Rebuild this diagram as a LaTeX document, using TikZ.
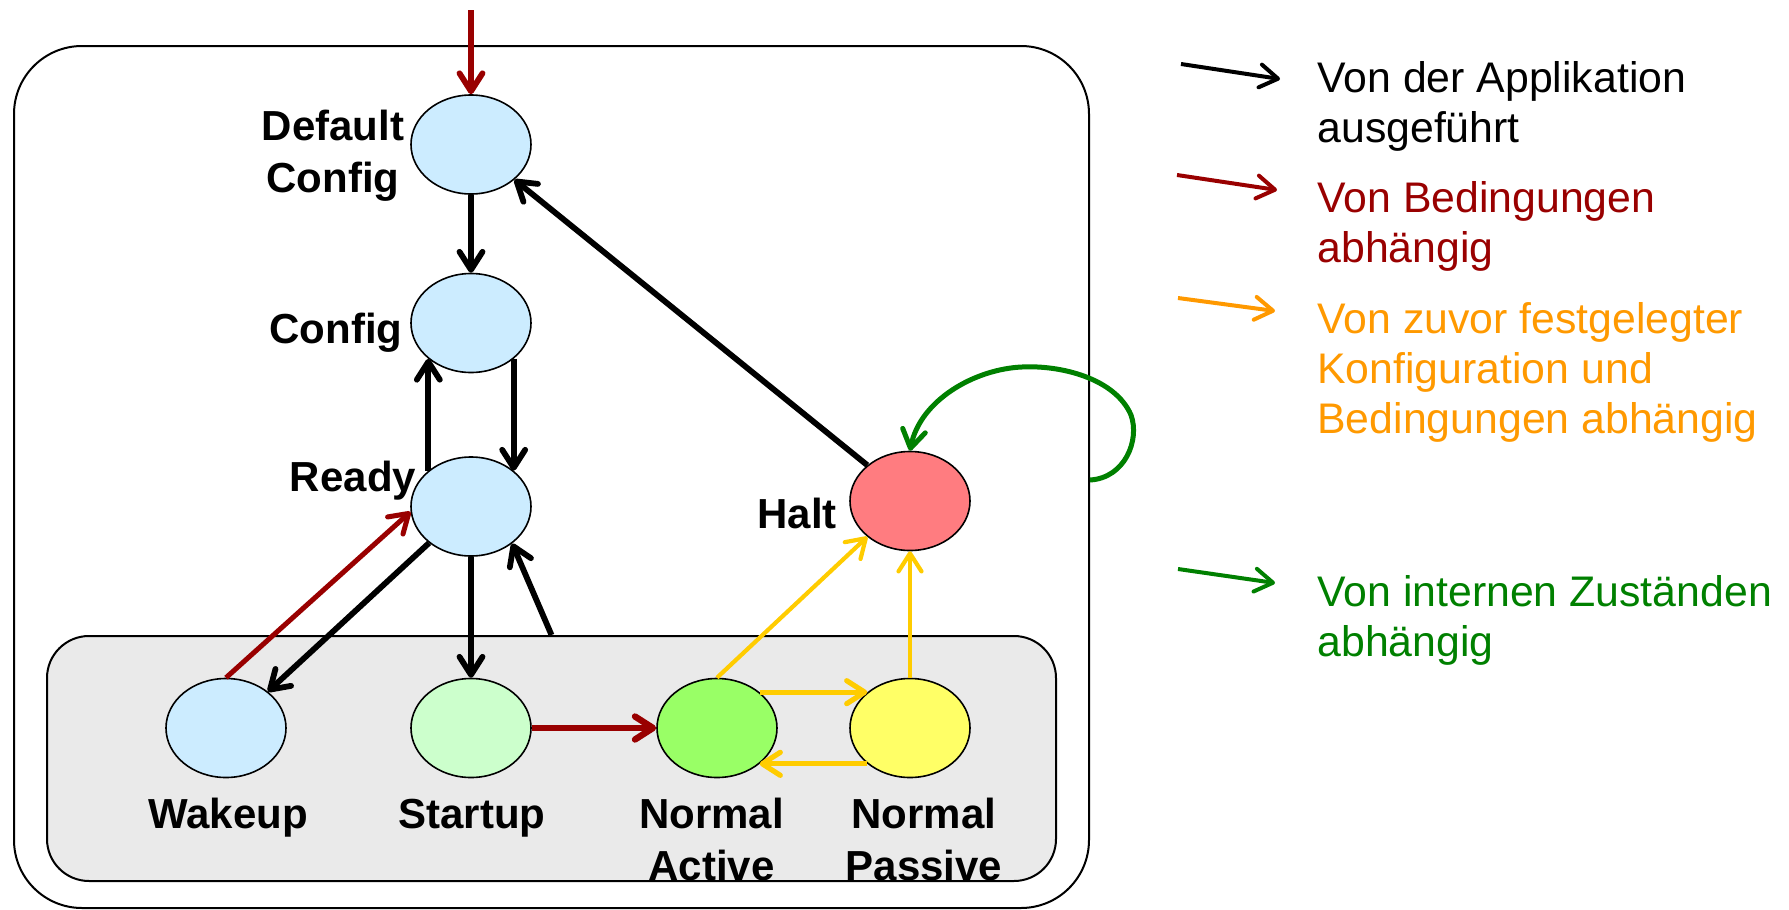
\documentclass[tikz,border=0pt]{standalone}
\usepackage{fontspec}
\setmainfont{Liberation Sans}
\usetikzlibrary{shapes.geometric,arrows.meta}

\definecolor{darkred}{HTML}{990000}
\definecolor{amber}{HTML}{FFCC00}
\definecolor{legorange}{HTML}{FF9900}
\definecolor{intgreen}{HTML}{008000}
\definecolor{paleblue}{HTML}{CCECFF}
\definecolor{palegreen}{HTML}{CCFFCC}
\definecolor{brightgreen}{HTML}{99FF66}
\definecolor{paleyellow}{HTML}{FFFF66}
\definecolor{salmon}{HTML}{FF7C80}
\definecolor{groupgray}{HTML}{EAEAEA}

\tikzset{
  state/.style={ellipse, draw=black, line width=0.8pt, minimum width=60pt,
    minimum height=49.5pt, inner sep=0pt},
  statelabel/.style={font=\fontsize{21}{26}\selectfont\bfseries, inner sep=0pt, align=center},
  legendtext/.style={font=\fontsize{21.4}{24.9}\selectfont, inner sep=0pt, align=left,
    anchor=north west},
  barb/.style={-{Straight Barb[length=9pt,width=11.5pt,round]}},
  trans/.style={barb, line width=2.9pt},
  legarrow/.style={barb, line width=2pt},
  box/.style={draw=black, line width=1pt, rectangle, inner sep=0pt}
}

\begin{document}
\begin{tikzpicture}[x=0.5pt, y=-0.5pt]
  \useasboundingbox (0,0) rectangle (1789,910);

  % composite states
  \node[box, rounded corners=34pt, minimum width=537.5pt, minimum height=431pt]
    (outer) at (551.5,477) {};
  \node[box, fill=groupgray, rounded corners=21pt, minimum width=504.5pt, minimum height=122.5pt]
    (group) at (551.5,758.5) {};

  % states
  \node[state, fill=paleblue]    (dc) at (471,144.5) {};
  \node[state, fill=paleblue]    (cf) at (471,323) {};
  \node[state, fill=paleblue]    (rd) at (471,506.5) {};
  \node[state, fill=salmon]      (ht) at (910,501) {};
  \node[state, fill=paleblue]    (wk) at (226,728) {};
  \node[state, fill=palegreen]   (su) at (471,728) {};
  \node[state, fill=brightgreen] (na) at (717,728) {};
  \node[state, fill=paleyellow]  (np) at (910,728) {};

  % state names
  \node[statelabel, anchor=north] (dcLab) at (333,110) {Default\\Config};
  \node[statelabel, anchor=base]  (cfLab) at (336,343) {Config};
  \node[statelabel, anchor=base]  (rdLab) at (353,491) {Ready};
  \node[statelabel, anchor=base]  (htLab) at (797,528) {Halt};
  \node[statelabel, anchor=base]  (wkLab) at (228,828) {Wakeup};
  \node[statelabel, anchor=base]  (suLab) at (472,828) {Startup};
  \node[statelabel, anchor=north] (naLab) at (711.5,798) {Normal\\Active};
  \node[statelabel, anchor=north] (npLab) at (924,798) {Normal\\Passive};

  % initial transition
  \coordinate (entry) at (471,10);
  \draw[trans, darkred] (entry) -- (dc.north);

  % transitions
  \draw[trans] (dc.south) -- (cf.north);
  \draw[trans] (ht.140) -- (dc.-39);
  \draw[trans] (rd.140) -- (cf.-140);
  \draw[trans] (cf.-40) -- (rd.40);
  \draw[trans, darkred, line width=2.5pt] (wk.north) -- (rd.-175);
  \draw[trans] (rd.-139) -- (wk.41);
  \draw[trans] (rd.south) -- (su.north);
  \draw[trans] (group.north) -- (rd.-42);
  \draw[trans, darkred, line width=3.2pt] (su.east) -- (na.west);
  \draw[trans, amber, line width=2.6pt] (na.40) -- (np.140);
  \draw[trans, amber, line width=2.6pt] (np.-140) -- (na.-40);
  \draw[trans, amber, line width=2.1pt] (na.north) -- (ht.-140);
  \draw[trans, amber, line width=2.1pt] (np.north) -- (ht.south);
  \draw[trans, intgreen, line width=2.5pt] ([yshift=-1.5pt]outer.east)
    .. controls (1125,478) and (1140,440) .. (1131,415)
    .. controls (1115,378) and (1060,365) .. (1022,367)
    .. controls (975,369) and (920,400) .. (ht.north);

  % legend
  \coordinate (lgKs) at (1181,64);   \coordinate (lgKe) at (1280,79);
  \coordinate (lgRs) at (1177,175);  \coordinate (lgRe) at (1277,190);
  \coordinate (lgOs) at (1178,298);  \coordinate (lgOe) at (1275,311);
  \coordinate (lgGs) at (1178,569);  \coordinate (lgGe) at (1275,583);
  \draw[legarrow, black]     (lgKs) -- (lgKe);
  \draw[legarrow, darkred]   (lgRs) -- (lgRe);
  \draw[legarrow, legorange] (lgOs) -- (lgOe);
  \draw[legarrow, intgreen]  (lgGs) -- (lgGe);

  \node[legendtext, text=black]     (lgK) at (1317,61)  {Von der Applikation\\ausgeführt};
  \node[legendtext, text=darkred]   (lgR) at (1317,181) {Von Bedingungen\\abhängig};
  \node[legendtext, text=legorange] (lgO) at (1317,302) {Von zuvor festgelegter\\Konfiguration und\\Bedingungen abhängig};
  \node[legendtext, text=intgreen]  (lgG) at (1317,575) {Von internen Zuständen\\abhängig};
\end{tikzpicture}
\end{document}
